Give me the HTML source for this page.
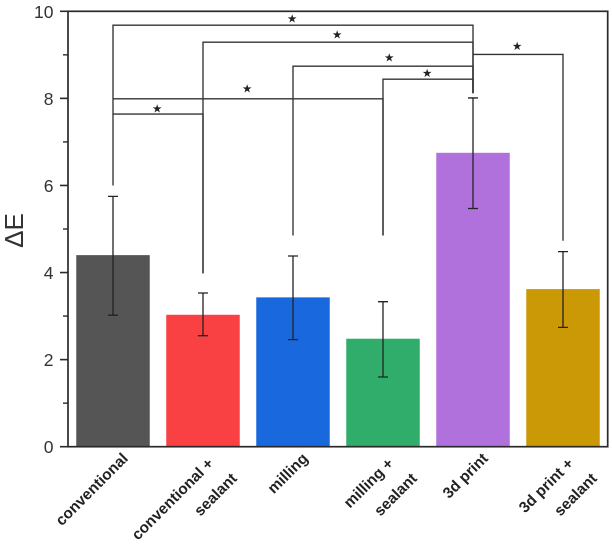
<!DOCTYPE html>
<html>
<head>
<meta charset="utf-8">
<title>ΔE bar chart</title>
<style>
html,body{margin:0;padding:0;background:#fff;width:612px;height:545px;overflow:hidden}
svg{display:block;font-family:"Liberation Sans",sans-serif;filter:blur(0.35px)}
</style>
</head>
<body>
<svg id="chart" width="612" height="545" viewBox="0 0 612 545" xmlns="http://www.w3.org/2000/svg"></svg>
<script>
const categories = [["conventional"],["conventional +","sealant"],["milling"],["milling +","sealant"],["3d print"],["3d print +","sealant"]];
const values = [4.4,3.03,3.43,2.48,6.75,3.62];
const errLow = [3.02,2.55,2.46,1.6,5.47,2.74];
const errHigh = [5.75,3.53,4.38,3.33,8.01,4.48];
const colors = ["#555555","#f94144","#1a68de","#31ad6b","#b171dc","#cc9906"];
const yTicks = [0,2,4,6,8,10];
const yMinorTicks = [1,3,5,7,9];
// Significance brackets: category indices, level value, end values of the drops, star location
const bracketFrom = [0,1,2,3,4,0,0];
const bracketTo = [4,4,4,4,5,3,1];
const bracketLevel = [9.68,9.29,8.74,8.44,9.01,7.99,7.64];
const bracketEndFrom = [6.0,3.98,4.85,4.85,9.01,7.99,7.64];
const bracketEndTo = [8.12,8.12,8.12,8.12,4.73,4.85,3.98];
const starCategory = [1.99,2.49,3.07,3.49,4.49,1.49,0.49];
const starLevel = [9.84,9.47,8.94,8.58,9.20,8.23,7.77];

const svg = document.getElementById('chart');
const NS = 'http://www.w3.org/2000/svg';
const plotL = 68, plotR = 607.7, plotT = 11.3, plotB = 446.7;
const yMax = 10;
const barW = 73.5;
const y = v => plotB - (v / yMax) * (plotB - plotT);
const x = i => 113 + i * 90;

function add(tag, attrs, parent, text) {
  const el = document.createElementNS(NS, tag);
  for (const k in attrs) el.setAttribute(k, attrs[k]);
  if (text !== undefined) el.textContent = text;
  (parent || svg).appendChild(el);
  return el;
}

// bars
values.forEach((v, i) => {
  const bar = add('rect', {x: x(i) - barW / 2, y: y(v), width: barW, height: y(0) - y(v), fill: colors[i]});
  
  
});

// axes frame
const frame = add('rect', {x: plotL, y: plotT, width: plotR - plotL, height: plotB - plotT, fill: 'none', stroke: '#2a2a2a', 'stroke-width': 1.7});



// y ticks
yTicks.forEach(t => {
  const tick = add('line', {x1: plotL - 8, x2: plotL, y1: y(t), y2: y(t), stroke: '#2a2a2a', 'stroke-width': 1.6});
  
  
  const label = add('text', {x: 53.5, y: y(t) + 6.5, 'text-anchor': 'end', 'font-size': 17.5, fill: '#333'}, svg, String(t));
  
  
});
yMinorTicks.forEach(t => {
  const tick = add('line', {x1: plotL - 5, x2: plotL, y1: y(t), y2: y(t), stroke: '#2a2a2a', 'stroke-width': 1.4});
  
  
});

// y title
const yTitle = add('text', {transform: 'translate(23,230.5) rotate(-90)', 'text-anchor': 'middle', 'font-size': 26, fill: '#333'}, svg, 'ΔE');



// error bars
values.forEach((v, i) => {
  const g = add('path', {
    d: `M${x(i)} ${y(errLow[i])}V${y(errHigh[i])}M${x(i) - 5} ${y(errLow[i])}H${x(i) + 5}M${x(i) - 5} ${y(errHigh[i])}H${x(i) + 5}`,
    fill: 'none', stroke: '#222', 'stroke-width': 1.3
  });
  
  
});

// significance brackets
bracketLevel.forEach((lvl, i) => {
  const x1 = x(bracketFrom[i]), x2 = x(bracketTo[i]), yl = y(lvl);
  const b = add('path', {
    d: `M${x1} ${y(bracketEndFrom[i])}V${yl}H${x2}V${y(bracketEndTo[i])}`,
    fill: 'none', stroke: '#333', 'stroke-width': 1.35
  });
  
  
  const s = add('text', {x: x(starCategory[i]), y: y(starLevel[i]) + 4, 'text-anchor': 'middle', 'font-size': 11.5, fill: '#222', style: 'font-family:"DejaVu Sans",sans-serif'}, svg, '★');
  
  
});

// x labels
categories.forEach((lines, i) => {
  lines.forEach((line, j) => {
    const ax = lines.length === 1 ? x(i) + 8.5 : x(i) + (j === 0 ? 4 : 27.5);
    const ay = lines.length === 1 ? 452 : (j === 0 ? 457 : 472);
    const t = add('text', {
      transform: `translate(${ax},${ay}) rotate(-45)`,
      'text-anchor': 'end', 'dominant-baseline': 'hanging',
      'font-size': 15.4, 'font-weight': 'bold', fill: '#222'
    }, svg, line);
    
    
  });
});
</script>
</body>
</html>
